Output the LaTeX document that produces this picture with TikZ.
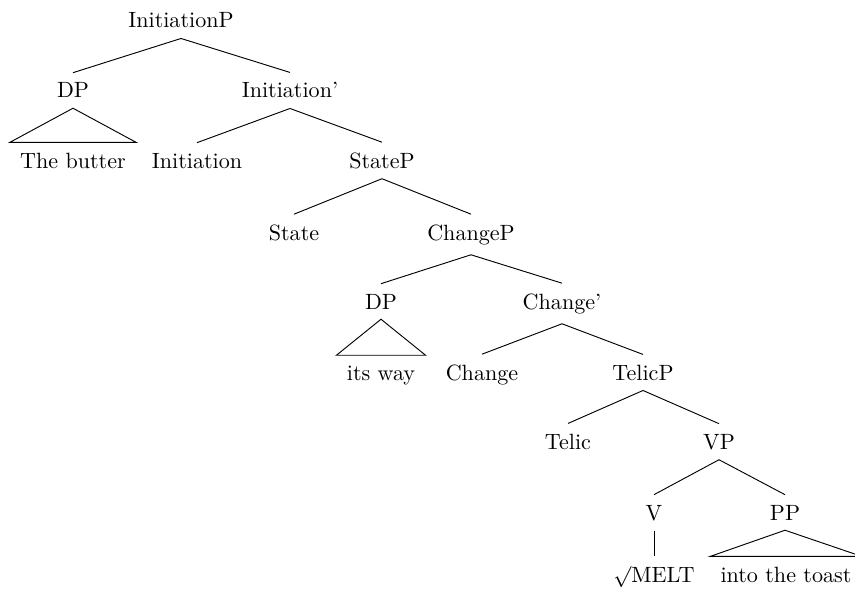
\documentclass[tikz,border=0pt]{standalone}
\begin{document}
\begin{tikzpicture}[x=0.43pt, y=-0.43pt, every node/.style={anchor=base, inner xsep=4.3pt, inner ysep=4.2pt, font=\fontsize{9.5}{11}\selectfont}]

      \useasboundingbox (0,0) rectangle (855,594);

      % Top
      \node (ip) at (181,28) {InitiationP};
      \node (dp1) at (73,98) {DP};
      \node (ibar) at (290,98) {Initiation'};
      \node (tb) at (73,168) {The butter};
      \node (init) at (197,168) {Initiation};
      \node (sp) at (382,168) {StateP};

      % Middle
      \node (st) at (294,240) {State};
      \node (cp) at (471,240) {ChangeP};
      \node (dp2) at (381,309) {DP};
      \node (cbar) at (562,309) {Change'};
      \node (iw) at (381,380) {its way};
      \node (ch) at (482,380) {Change};
      \node (tp) at (643,380) {TelicP};

      % Bottom
      \node (tl) at (568,449) {Telic};
      \node (vp) at (719,449) {VP};
      \node (v) at (654,520) {V};
      \node (pp) at (785,520) {PP};
      \node (melt) at (654,582) {$\surd$MELT};
      \node (toast) at (786,582) {into the toast};

      % Branches
      \foreach \a/\b in {ip/dp1, ip/ibar, ibar/init, ibar/sp, sp/st, sp/cp, cp/dp2, cp/cbar,
                         cbar/ch, cbar/tp, tp/tl, tp/vp, vp/v, vp/pp, v/melt}
        \draw (\a.south) -- (\b.north);

      % Roofs
      \foreach \a/\b in {dp1/tb, dp2/iw, pp/toast}
        \draw (\a.south) -- (\b.north west) -- (\b.north east) -- cycle;

  \end{tikzpicture}
\end{document}
